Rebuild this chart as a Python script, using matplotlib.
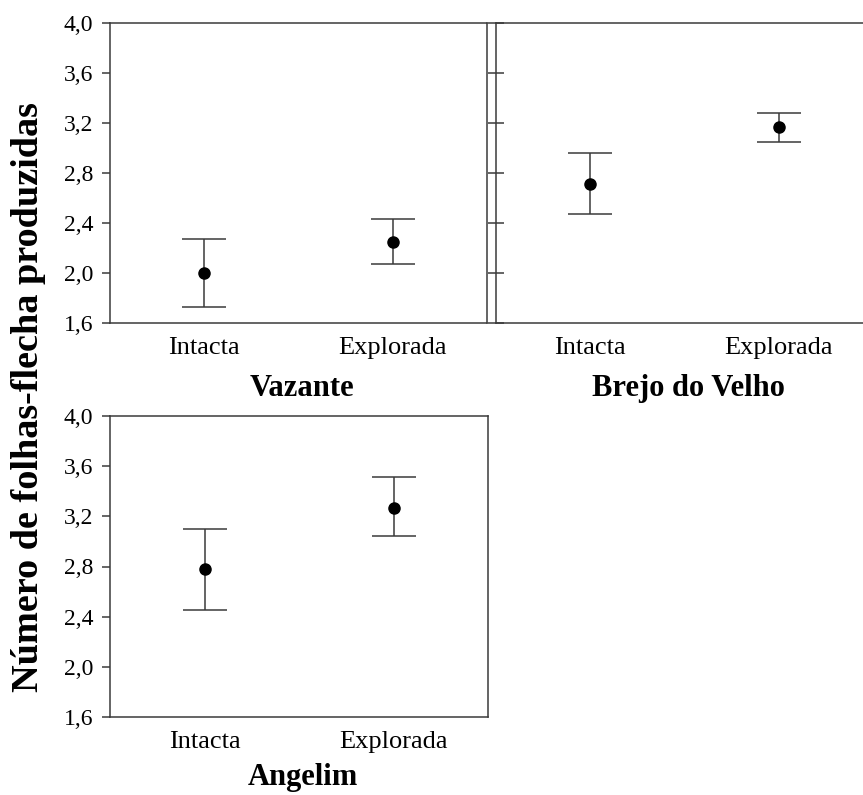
import matplotlib
matplotlib.use("Agg")
import matplotlib.pyplot as plt
import numpy as np

plt.rcParams['font.family'] = ['Liberation Serif', 'DejaVu Serif']

categories = ["Intacta", "Explorada"]
sites = ["Vazante", "Brejo do Velho", "Angelim"]
means = {
    "Vazante": [2.00, 2.25],
    "Brejo do Velho": [2.71, 3.17],
    "Angelim": [2.78, 3.27],
}
upper = {
    "Vazante": [2.27, 2.43],
    "Brejo do Velho": [2.96, 3.28],
    "Angelim": [3.10, 3.51],
}
lower = {
    "Vazante": [1.73, 2.07],
    "Brejo do Velho": [2.47, 3.05],
    "Angelim": [2.45, 3.04],
}
yticks = [1.6, 2.0, 2.4, 2.8, 3.2, 3.6, 4.0]
ytick_labels = ["1,6", "2,0", "2,4", "2,8", "3,2", "3,6", "4,0"]
ylabel = "Número de folhas-flecha produzidas"

W, H = 863, 795
fig = plt.figure(figsize=(W / 100, H / 100), dpi=100)

line_col = "#3a3a3a"
rects = {
    "Vazante": [110 / W, 1 - 323 / H, 377 / W, 300 / H],
    "Brejo do Velho": [496 / W, 1 - 323 / H, 377 / W, 300 / H],
    "Angelim": [110 / W, 1 - 717 / H, 378 / W, 301 / H],
}
pads = {"Vazante": 11, "Brejo do Velho": 11, "Angelim": 7}

for site in sites:
    ax = fig.add_axes(rects[site])
    x = np.arange(len(categories))
    m = np.array(means[site])
    up = np.array(upper[site]) - m
    lo = m - np.array(lower[site])
    ax.errorbar(x, m, yerr=[lo, up], fmt='none', ecolor=line_col,
                elinewidth=1.1, capsize=16, capthick=1.1, zorder=2)
    ax.plot(x, m, 'o', color='black', markersize=8, zorder=3)
    ax.set_xlim(-0.5, 1.5)
    ax.set_ylim(1.6, 4.0)
    ax.set_xticks(x)
    ax.set_xticklabels(categories, fontsize=19)
    ax.set_yticks(yticks)
    for s in ax.spines.values():
        s.set_color(line_col)
        s.set_linewidth(1.1)
    ax.tick_params(axis='x', length=0, pad=10)
    if site == "Brejo do Velho":
        ax.set_yticklabels([])
        ax.tick_params(axis='y', direction='inout', length=11, width=1.1,
                       color=line_col)
    else:
        ax.set_yticklabels(ytick_labels, fontsize=17)
        ax.tick_params(axis='y', direction='out', length=6, width=1.1,
                       color=line_col, pad=6)
    xl = ax.set_xlabel(site, fontsize=22, fontweight='bold', labelpad=pads[site])
    xl.set_x(0.51)

fig.text(29 / W, 0.5, ylabel, rotation=90, fontsize=27.5, fontweight='bold',
         ha='center', va='center')

fig.savefig("out.png", dpi=100)
